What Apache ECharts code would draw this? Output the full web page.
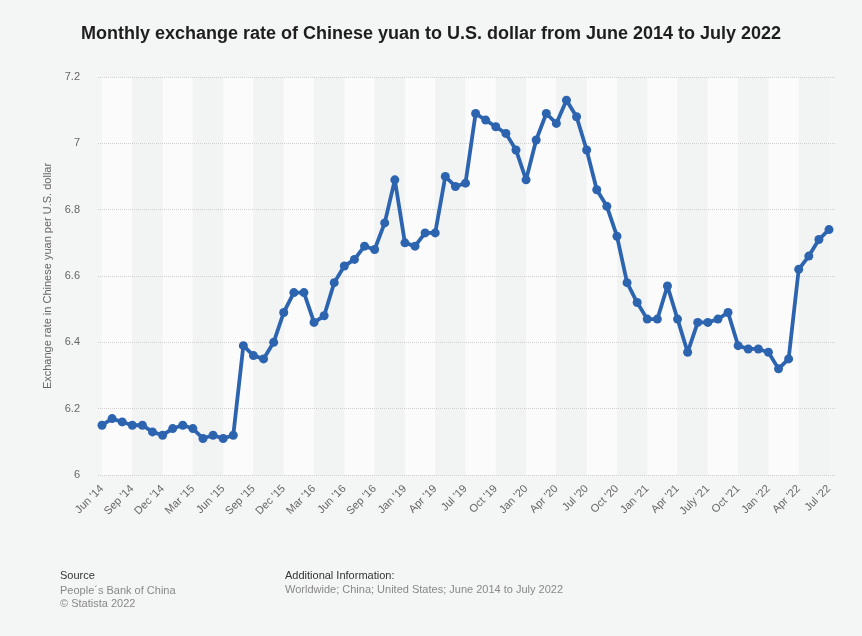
<!DOCTYPE html>
<html>
<head>
<meta charset="utf-8">
<script src="https://cdn.jsdelivr.net/npm/echarts@6/dist/echarts.min.js"></script>
<style>
  html, body { margin: 0; padding: 0; background: #f4f5f5; }
  #chart { width: 862px; height: 636px; }
</style>
</head>
<body>
<div id="chart"></div>
<script>
// Month labels (the source series runs Jun 2014 – Nov 2016, then Jan 2019 – Jul 2022)
const months = [
  "Jun '14", "Jul '14", "Aug '14", "Sep '14", "Oct '14", "Nov '14", "Dec '14",
  "Jan '15", "Feb '15", "Mar '15", "Apr '15", "May '15", "Jun '15", "Jul '15",
  "Aug '15", "Sep '15", "Oct '15", "Nov '15", "Dec '15", "Jan '16", "Feb '16",
  "Mar '16", "Apr '16", "May '16", "Jun '16", "Jul '16", "Aug '16", "Sep '16",
  "Oct '16", "Nov '16",
  "Jan '19", "Feb '19", "Mar '19", "Apr '19", "May '19", "Jun '19", "Jul '19",
  "Aug '19", "Sep '19", "Oct '19", "Nov '19", "Dec '19", "Jan '20", "Feb '20",
  "Mar '20", "Apr '20", "May '20", "Jun '20", "Jul '20", "Aug '20", "Sep '20",
  "Oct '20", "Nov '20", "Dec '20", "Jan '21", "Feb '21", "Mar '21", "Apr '21",
  "May '21", "Jun '21", "July '21", "Aug '21", "Sep '21", "Oct '21", "Nov '21",
  "Dec '21", "Jan '22", "Feb '22", "Mar '22", "Apr '22", "May '22", "Jun '22",
  "Jul '22"
];

// Yuan per U.S. dollar, monthly
const rates = [
  6.15, 6.17, 6.16, 6.15, 6.15, 6.13, 6.12,
  6.14, 6.15, 6.14, 6.11, 6.12, 6.11, 6.12,
  6.39, 6.36, 6.35, 6.40, 6.49, 6.55, 6.55,
  6.46, 6.48, 6.58, 6.63, 6.65, 6.69, 6.68,
  6.76, 6.89,
  6.70, 6.69, 6.73, 6.73, 6.90, 6.87, 6.88,
  7.09, 7.07, 7.05, 7.03, 6.98, 6.89, 7.01,
  7.09, 7.06, 7.13, 7.08, 6.98, 6.86, 6.81,
  6.72, 6.58, 6.52, 6.47, 6.47, 6.57, 6.47,
  6.37, 6.46, 6.46, 6.47, 6.49, 6.39, 6.38,
  6.38, 6.37, 6.32, 6.35, 6.62, 6.66, 6.71,
  6.74
];

const yMin = 6, yMax = 7.2, yStep = 0.2;

const titleText = 'Monthly exchange rate of Chinese yuan to U.S. dollar from June 2014 to July 2022';
const yAxisTitle = 'Exchange rate in Chinese yuan per U.S. dollar';
const sourceLines = ['People\u00b4s Bank of China', '\u00a9 Statista 2022'];
const infoLine = 'Worldwide; China; United States; June 2014 to July 2022';

const FONT = '"Liberation Sans", Arial, Helvetica, sans-serif';
const chart = echarts.init(document.getElementById('chart'), null, { renderer: 'canvas' });

chart.setOption({
  backgroundColor: '#f4f5f5',
  animation: false,
  textStyle: { fontFamily: FONT },
  title: {
    text: titleText,
    left: 'center',
    top: 20,
    textStyle: { fontFamily: FONT, fontSize: 18, fontWeight: 'bold', color: '#1e1e1e' }
  },
  graphic: [
    { type: 'text', left: 60, top: 570, style: { text: 'Source', font: '11px ' + FONT, fill: '#333' } },
    { type: 'text', left: 60, top: 584, style: { text: sourceLines.join('\n'), font: '11px ' + FONT, fill: '#888', lineHeight: 13 } },
    { type: 'text', left: 285, top: 570, style: { text: 'Additional Information:', font: '11px ' + FONT, fill: '#333' } },
    { type: 'text', left: 285, top: 584, style: { text: infoLine, font: '11px ' + FONT, fill: '#888' } }
  ],
  grid: [
    // data area
    { left: 102, right: 33, top: 77, bottom: 161 },
    // slightly wider area carrying the horizontal gridlines
    { left: 98, right: 27, top: 77, bottom: 161 }
  ],
  xAxis: [
    {
      type: 'category',
      gridIndex: 0,
      data: months,
      boundaryGap: false,
      axisLine: { show: false },
      axisTick: { show: false },
      axisLabel: {
        interval: 2,
        rotate: 45,
        margin: 12,
        color: '#666',
        fontSize: 11,
        fontFamily: FONT
      },
      splitLine: { show: false },
      splitArea: {
        show: true,
        interval: 2,
        areaStyle: { color: ['#fbfbfb', '#f2f3f3'] }
      }
    },
    { type: 'value', gridIndex: 1, show: false, min: 0, max: 1 }
  ],
  yAxis: [
    {
      type: 'value',
      gridIndex: 0,
      min: yMin,
      max: yMax,
      interval: yStep,
      name: yAxisTitle,
      nameLocation: 'middle',
      nameGap: 48,
      nameTextStyle: { color: '#666', fontSize: 11, fontFamily: FONT },
      axisLine: { show: false },
      axisTick: { show: false },
      axisLabel: { color: '#666', fontSize: 11, margin: 22, fontFamily: FONT,
        formatter: v => String(+v.toFixed(1)) },
      splitLine: { show: false }
    },
    {
      type: 'value',
      gridIndex: 1,
      z: 3,
      min: yMin,
      max: yMax,
      interval: yStep,
      axisLine: { show: false },
      axisTick: { show: false },
      axisLabel: { show: false },
      splitLine: { show: true, lineStyle: { color: '#cfcfcf', type: [1, 1], width: 1 } }
    }
  ],
  series: [
    {
      type: 'line',
      xAxisIndex: 0,
      yAxisIndex: 0,
      data: rates,
      symbol: 'circle',
      symbolSize: 9,
      showAllSymbol: true,
      z: 10,
      lineStyle: { color: '#2d64b0', width: 3.8 },
      itemStyle: { color: '#2d64b0', borderWidth: 0 }
    }
  ]
});
</script>
</body>
</html>
